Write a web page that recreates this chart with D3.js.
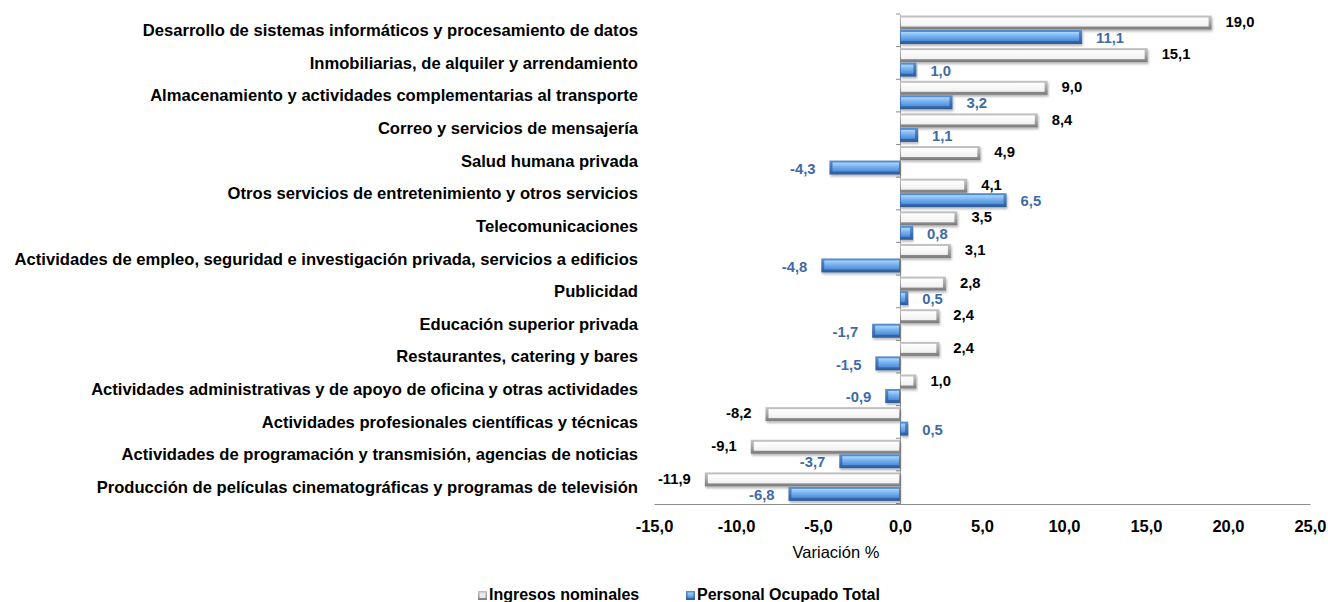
<!DOCTYPE html>
<html><head><meta charset="utf-8">
<script src="https://cdn.jsdelivr.net/npm/d3@7"></script>
<style>
body{margin:0;background:#fff;}
text{font-family:"Liberation Sans",Arial,sans-serif;}
</style></head>
<body><svg id="c" width="1328" height="602"></svg>
<script>
const categories = [
"Desarrollo de sistemas informáticos y procesamiento de datos",
"Inmobiliarias, de alquiler y arrendamiento",
"Almacenamiento y actividades complementarias al transporte",
"Correo y servicios de mensajería",
"Salud humana privada",
"Otros servicios de entretenimiento y otros servicios",
"Telecomunicaciones",
"Actividades de empleo, seguridad e investigación privada, servicios a edificios",
"Publicidad",
"Educación superior privada",
"Restaurantes, catering y bares",
"Actividades administrativas y de apoyo de oficina y otras actividades",
"Actividades profesionales científicas y técnicas",
"Actividades de programación y transmisión, agencias de noticias",
"Producción de películas cinematográficas y programas de televisión"];
const ingresos = [19.0,15.1,9.0,8.4,4.9,4.1,3.5,3.1,2.8,2.4,2.4,1.0,-8.2,-9.1,-11.9];
const personal = [11.1,1.0,3.2,1.1,-4.3,6.5,0.8,-4.8,0.5,-1.7,-1.5,-0.9,0.5,-3.7,-6.8];
const xTicks = [-15,-10,-5,0,5,10,15,20,25];
const seriesNames = ["Ingresos nominales","Personal Ocupado Total"];

const svg = d3.select("#c");
const defs = svg.append("defs");
function grad(id, stops){
  const g = defs.append("linearGradient").attr("id",id).attr("x1",0).attr("y1",0).attr("x2",0).attr("y2",1);
  stops.forEach(s=>g.append("stop").attr("offset",s[0]).attr("stop-color",s[1]));
}
grad("gOut",[[0,"#c4c4c4"],[0.5,"#a6a6a6"],[1,"#7a7a7a"]]);
grad("gIn",[[0,"#ffffff"],[1,"#f0f0f0"]]);
grad("bOut",[[0,"#5a90d2"],[1,"#2d5c9a"]]);
grad("bIn",[[0,"#acd7fb"],[0.45,"#78b3ef"],[1,"#4d8cda"]]);
const f = defs.append("filter").attr("id","sh").attr("x","-5%").attr("y","-30%").attr("width","110%").attr("height","180%");
f.append("feDropShadow").attr("dx",1).attr("dy",2).attr("stdDeviation",1.3).attr("flood-color","#000").attr("flood-opacity",0.28);

const x = d3.scaleLinear().domain([-15,25]).range([654,1310]);
const y = d3.scaleBand().domain(categories).range([14,503.5]).paddingInner(0).paddingOuter(0);
const barH = 14;
const subOff = [1.5, 16];

// x axis
const fmt = v => d3.format(".1f")(v).replace(".",",").replace("−","-");
const xAxis = d3.axisBottom(x).tickValues(xTicks).tickSize(0).tickPadding(16).tickFormat(fmt);
const xg = svg.append("g").attr("transform","translate(0,504)").call(xAxis);
xg.select(".domain").attr("stroke","#8c8c8c").attr("stroke-width",1.2);
xg.selectAll("text").attr("font-size",16.5).attr("font-weight","bold").attr("fill","#000");

svg.append("text").attr("x",836).attr("y",558).attr("text-anchor","middle").attr("font-size",16.5).text("Variación %");

// y axis
const yAxis = d3.axisLeft(y).tickValues([]).tickSize(0);
const yg = svg.append("g").attr("transform",`translate(${x(0)},0)`).call(yAxis);
yg.select(".domain").attr("stroke","#9a9a9a");
const bounds = categories.map(c=>y(c)).concat([y.range()[1]]);
svg.append("g").selectAll("line").data(bounds).join("line")
  .attr("x1",x(0)-4).attr("x2",x(0)).attr("y1",d=>d).attr("y2",d=>d).attr("stroke","#8c8c8c");

// category labels
svg.append("g").selectAll("text").data(categories).join("text")
  .attr("x",638).attr("y",d=>y(d)+y.bandwidth()/2).attr("dy","0.35em")
  .attr("text-anchor","end").attr("font-size",16.6).attr("font-weight","bold").attr("fill","#000")
  .text(d=>d);

function drawBars(vals, idx, outer, inner, labelColor, dyl){
  const g = svg.append("g");
  const h = barH;
  vals.forEach((v,i)=>{
    const c = categories[i];
    const y0 = y(c)+subOff[idx];
    const x0 = Math.min(x(0),x(v)), w = Math.abs(x(v)-x(0));
    g.append("rect").attr("x",x0).attr("y",y0).attr("width",w).attr("height",h)
      .attr("fill",`url(#${outer})`).attr("filter","url(#sh)");
    const il = v>=0 ? 1 : 3, ir = v>=0 ? 3 : 1;
    if (w>il+ir+1) g.append("rect").attr("x",x0+il).attr("y",y0+2).attr("width",w-il-ir).attr("height",h-5)
      .attr("fill",`url(#${inner})`);
    const lx = v>=0 ? x(v)+14 : x(v)-14;
    g.append("text").attr("x",lx).attr("y",y0+h/2+dyl).attr("dy","0.35em")
      .attr("text-anchor", v>=0?"start":"end").attr("font-size",14.8).attr("font-weight","bold")
      .attr("fill",labelColor).text(fmt(v));
  });
}
drawBars(ingresos,0,"gOut","gIn","#000",-1);
drawBars(personal,1,"bOut","bIn","#3e6ba6",1);

// legend
const leg = svg.append("g");
const lx = [478, 686];
seriesNames.forEach((n,i)=>{
  const gg = leg.append("g").attr("transform",`translate(${lx[i]},591)`);
  gg.append("rect").attr("width",9).attr("height",9).attr("fill",i?"url(#bOut)":"url(#gOut)");
  gg.append("rect").attr("x",1.5).attr("y",1.5).attr("width",6).attr("height",5.5).attr("fill",i?"url(#bIn)":"#e8e8e8");
  gg.append("text").attr("x",11).attr("y",2.5).attr("dy","0.38em").attr("font-size",16).attr("font-weight","bold").text(n);
});
</script></body></html>
